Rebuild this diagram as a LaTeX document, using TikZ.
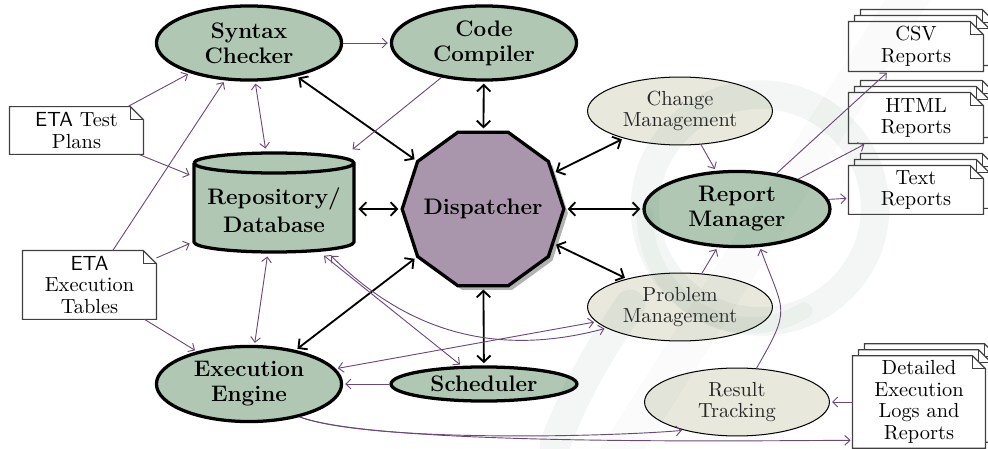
\documentclass[tikz,border=0pt]{standalone}
\usetikzlibrary{shapes.geometric,arrows.meta,shadows,calc,backgrounds}

\definecolor{sage}{RGB}{176,200,179}
\definecolor{paleclr}{RGB}{232,232,221}
\definecolor{mauve}{RGB}{170,150,172}
\definecolor{plum}{RGB}{108,72,118}
\definecolor{wmark}{RGB}{80,125,95}

\newcommand\sheet[3]{%
  \draw[docline,fill=white]
    ($(#1.south west)+(#2,#3)$) -- ($(#1.north west)+(#2,#3)$)
    -- ($(#1.north east)+(#2-13,#3)$) -- ($(#1.north east)+(#2,#3+13)$)
    -- ($(#1.south east)+(#2,#3)$) -- cycle;
  \draw[docline]
    ($(#1.north east)+(#2-13,#3)$) -- ($(#1.north east)+(#2-13,#3+13)$)
    -- ($(#1.north east)+(#2,#3+13)$);
}

\tikzset{
  linktip/.tip={Straight Barb[length=3.2pt,width=6.6pt]},
  flowtip/.tip={Straight Barb[length=2.5pt,width=4.8pt]},
  big/.style={ellipse, draw=black, line width=1.6pt, fill=sage, align=center,
    inner sep=0pt, font=\bfseries\fontsize{11}{12.2}\selectfont},
  soft/.style={ellipse, draw=black, line width=0.5pt, fill=paleclr, align=center,
    inner sep=0pt, text=black!85, font=\fontsize{10}{10.4}\selectfont,
    minimum width=90.6pt, minimum height=33.3pt},
  doc/.style={rectangle, inner sep=0pt, align=center,
    font=\fontsize{10}{10.6}\selectfont},
  docline/.style={draw=black!75, line width=0.6pt},
  link/.style={draw=black, line width=0.9pt, linktip-linktip,
    shorten <=1pt, shorten >=1pt},
  flow/.style={draw=plum, line width=0.45pt, -flowtip, shorten >=1pt},
  flowboth/.style={draw=plum, line width=0.45pt, flowtip-flowtip,
    shorten >=1pt, shorten <=1pt},
}

\begin{document}
\begin{tikzpicture}[x=0.49pt,y=-0.49pt]
\useasboundingbox (0,0) rectangle (988,449);

% main components
\node[big, minimum width=90.7pt, minimum height=36.3pt] (syn) at (249,43) {Syntax\\Checker};
\node[big, minimum width=90.7pt, minimum height=36.3pt] (comp) at (484,43) {Code\\Compiler};
\node[big, minimum width=90.7pt, minimum height=36.8pt] (exe) at (249,384) {Execution\\Engine};
\node[big, minimum width=91.1pt, minimum height=16.7pt] (sched) at (484,384) {Scheduler};
\node[big, minimum width=91.1pt, minimum height=36.8pt] (rm) at (737,209) {Report\\Manager};

\node[soft] (chg) at (680,111) {Change\\Management};
\node[soft] (prob) at (680,307) {Problem\\Management};
\node[soft] (res) at (737,402) {Result\\Tracking};

% dispatcher: decagon drawn empty, label set on top
\node[regular polygon, regular polygon sides=10, minimum size=79.2pt, inner sep=0pt,
  draw=black, line width=1.6pt, fill=mauve,
  drop shadow={shadow xshift=2pt, shadow yshift=-2pt, fill=black!30, opacity=1}]
  (disp) at (483,209) {};
\node[font=\bfseries\fontsize{11}{12.2}\selectfont, inner sep=0pt] (disptext) at (disp.center) {Dispatcher};

% repository cylinder
\fill[sage] (194,163) -- (194,242) arc[start angle=180, end angle=360, x radius=39.2pt, y radius=4.9pt]
  -- (354,163) arc[start angle=0, end angle=180, x radius=39.2pt, y radius=4.9pt] -- cycle;
\draw[line width=1.6pt] (194,163) -- (194,242) arc[start angle=180, end angle=360, x radius=39.2pt, y radius=4.9pt]
  -- (354,163) arc[start angle=0, end angle=180, x radius=39.2pt, y radius=4.9pt];
\draw[line width=1.6pt] (194,163) arc[start angle=180, end angle=360, x radius=39.2pt, y radius=4.9pt];
\node[rectangle, inner sep=0pt, minimum width=80.4pt, minimum height=50.5pt] (repo) at (274,202.5) {};
\node[align=center, inner sep=0pt, font=\bfseries\fontsize{11}{13.5}\selectfont] (repotext) at (274,210) {Repository/\\Database};

% documents
\node[doc, minimum width=65.2pt, minimum height=23pt] (tp) at (76.5,130.5) {\textsf{ETA} Test\\Plans};
\node[doc, minimum width=65.2pt, minimum height=33.3pt] (et) at (89.5,285) {\textsf{ETA}\\Execution\\Tables};
\node[doc, minimum width=65.7pt, minimum height=24pt] (csv) at (916,46.5) {CSV\\Reports};
\node[doc, minimum width=65.7pt, minimum height=24.5pt] (html) at (916,118) {HTML\\Reports};
\node[doc, minimum width=65.7pt, minimum height=23.5pt] (txt) at (916,190) {Text\\Reports};
\node[doc, minimum width=64.7pt, minimum height=45pt] (log) at (919,402) {Detailed\\Execution\\Logs and\\Reports};

\begin{pgfonlayer}{background}
  \sheet{tp}{0}{0}
  \sheet{et}{0}{0}
  \foreach \d in {csv,html,txt,log}{
    \sheet{\d}{12}{-12}
    \sheet{\d}{6}{-6}
    \sheet{\d}{0}{0}
  }
\end{pgfonlayer}

% dispatcher links
\draw[link] (syn.-35) -- (disp.144);
\draw[link] (comp) -- (disp);
\draw[link] (disp.west) -- (disp.west -| repo.east);
\draw[link] (disp.east) -- (rm.west);
\draw[link] (disp.27.5) -- (chg.-154);
\draw[link] (disp.-26.3) -- (prob.152.6);
\draw[link] (disp.216) -- (exe.36);
\draw[link] (disp) -- (sched);

% data flows
\draw[flow] (syn) -- (comp);
\draw[flow] (tp.25.4) -- (syn.207.3);
\draw[flow] (tp.-21.2) -- (repo.162);
\draw[flow] (et.56.1) -- (syn.237.3);
\draw[flowboth] (syn.-81.9) -- (repo.99.5);
\draw[flow] (comp.219.7) -- (repo.34.5);
\draw[flow] (et.22.6) -- (repo.206);
\draw[flow] (et.-32) -- (exe.148);
\draw[flowboth] (repo.-97.5) -- (exe.82);
\draw[flowboth] (repo.-47.7) -- (sched.141);
\draw[flowboth] (repo.-43.6) to[out=-45,in=195] (prob.196.6);
\draw[flowboth] (exe.10.6) -- (prob.190.3);
\draw[flow] (sched) -- (exe);
\draw[flow] (chg.-58.6) -- (rm.119.7);
\draw[flow] (prob.57.8) -- (rm.243);
\draw[flow] (res.60.4) to[out=60,in=-70,looseness=1.5] (rm.-59.8);
\draw[flow] (rm.42.2) -- (csv.222.4);
\draw[flow] (rm.26.9) -- (html.207);
\draw[flow] (rm.6) -- (txt.187.4);
\draw[flow] (log) -- (res);
\draw[flow] (exe.-33) to[out=-20,in=185,looseness=0.5] (res.208.5);
\draw[flow] (exe.-33) to[out=-20,in=180,looseness=0.4] (log.210);

% faint emblem laid over the right half
\begin{scope}[line cap=round]
  \draw[wmark, opacity=0.07, line width=14pt] (760,208) ellipse[x radius=56.4pt, y radius=55.6pt];
  \draw[wmark, opacity=0.05, line width=8pt] (645,215) arc[start angle=180, end angle=300, x radius=52pt, y radius=54pt];
  \draw[wmark, opacity=0.07, line width=15pt] (630,305) .. controls (600,350) and (575,390) .. (555,445);
  \fill[wmark, opacity=0.03] (600,449) -- (645,449) -- (930,0) -- (885,0) -- cycle;
\end{scope}
\end{tikzpicture}
\end{document}
